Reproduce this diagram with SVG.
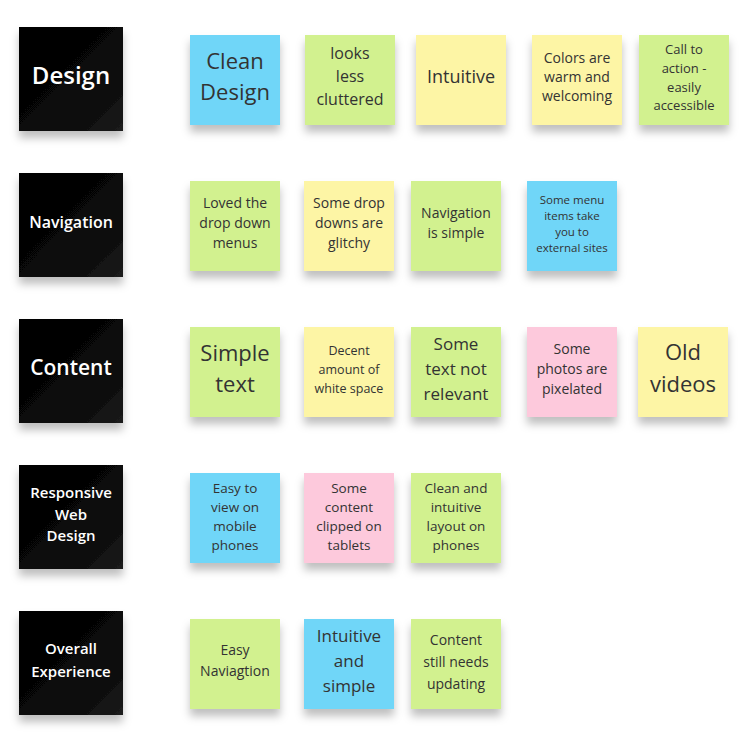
<svg xmlns="http://www.w3.org/2000/svg" width="753" height="741" viewBox="0 0 753 741">
<defs>
<filter id="sh" x="-20%" y="-20%" width="140%" height="150%"><feDropShadow dx="0" dy="7" stdDeviation="4" flood-color="#000" flood-opacity="0.25"/></filter>
<linearGradient id="bk" x1="0" y1="0" x2="1" y2="1"><stop offset="0" stop-color="#000"/><stop offset="0.7" stop-color="#0a0a0a"/><stop offset="1" stop-color="#1c1c1c"/></linearGradient>
</defs>
<style>
rect{filter:url(#sh)}
.h rect{fill:url(#bk)}
.b{fill:#6fd6f8}.g{fill:#d2f18f}.y{fill:#fdf5a5}.p{fill:#fdc9dc}
text{font-family:"Open Sans","Noto Sans",sans-serif;text-anchor:middle;fill:#333}
.h text{fill:#fff;font-weight:600}
</style>
<rect width="753" height="741" fill="#fff" style="filter:none"/>
<g id="h1" class="h"><rect x="19" y="27" width="104" height="104"/><text x="71" y="84" font-size="24">Design</text></g>
<g id="h2" class="h"><rect x="19" y="173" width="104" height="104"/><text x="71" y="228" font-size="16">Navigation</text></g>
<g id="h3" class="h"><rect x="19" y="319" width="104" height="104"/><text x="71" y="375" font-size="21">Content</text></g>
<g id="h4" class="h"><rect x="19" y="465" width="104" height="104"/><text x="71" y="498" font-size="15">Responsive</text><text x="71" y="520" font-size="15">Web</text><text x="71" y="541" font-size="15">Design</text></g>
<g id="h5" class="h"><rect x="19" y="611" width="104" height="104"/><text x="71" y="654" font-size="15">Overall</text><text x="71" y="677" font-size="15">Experience</text></g>

<g id="n1"><rect class="b" x="190" y="35" width="90" height="90"/><text x="235" y="69" font-size="22">Clean</text><text x="235" y="100" font-size="22">Design</text></g>
<g id="n2"><rect class="g" x="305" y="35" width="90" height="90"/><text x="350" y="59" font-size="16">looks</text><text x="350" y="82" font-size="16">less</text><text x="350" y="105" font-size="16">cluttered</text></g>
<g id="n3"><rect class="y" x="416" y="35" width="90" height="90"/><text x="461" y="83" font-size="18">Intuitive</text></g>
<g id="n4"><rect class="y" x="532" y="35" width="90" height="90"/><text x="577" y="63" font-size="14">Colors are</text><text x="577" y="82" font-size="14">warm and</text><text x="577" y="101" font-size="14">welcoming</text></g>
<g id="n5"><rect class="g" x="639" y="35" width="90" height="90"/><text x="684" y="54" font-size="13">Call to</text><text x="684" y="73" font-size="13">action -</text><text x="684" y="92" font-size="13">easily</text><text x="684" y="110" font-size="13">accessible</text></g>

<g id="n6"><rect class="g" x="190" y="181" width="90" height="90"/><text x="235" y="208" font-size="14">Loved the</text><text x="235" y="228" font-size="14">drop down</text><text x="235" y="248" font-size="14">menus</text></g>
<g id="n7"><rect class="y" x="304" y="181" width="90" height="90"/><text x="349" y="208" font-size="14">Some drop</text><text x="349" y="228" font-size="14">downs are</text><text x="349" y="248" font-size="14">glitchy</text></g>
<g id="n8"><rect class="g" x="411" y="181" width="90" height="90"/><text x="456" y="218" font-size="14">Navigation</text><text x="456" y="238" font-size="14">is simple</text></g>
<g id="n9"><rect class="b" x="527" y="181" width="90" height="90"/><text x="572" y="204" font-size="11.5">Some menu</text><text x="572" y="220" font-size="11.5">items take</text><text x="572" y="236" font-size="11.5">you to</text><text x="572" y="252" font-size="11.5">external sites</text></g>

<g id="n10"><rect class="g" x="190" y="327" width="90" height="90"/><text x="235" y="361" font-size="22">Simple</text><text x="235" y="392" font-size="22">text</text></g>
<g id="n11"><rect class="y" x="304" y="327" width="90" height="90"/><text x="349" y="355" font-size="12.5">Decent</text><text x="349" y="374" font-size="12.5">amount of</text><text x="349" y="393" font-size="12.5">white space</text></g>
<g id="n12"><rect class="g" x="411" y="327" width="90" height="90"/><text x="456" y="350" font-size="17">Some</text><text x="456" y="375" font-size="17">text not</text><text x="456" y="400" font-size="17">relevant</text></g>
<g id="n13"><rect class="p" x="527" y="327" width="90" height="90"/><text x="572" y="354" font-size="14">Some</text><text x="572" y="374" font-size="14">photos are</text><text x="572" y="394" font-size="14">pixelated</text></g>
<g id="n14"><rect class="y" x="638" y="327" width="90" height="90"/><text x="683" y="360" font-size="22">Old</text><text x="683" y="392" font-size="22">videos</text></g>

<g id="n15"><rect class="b" x="190" y="473" width="90" height="90"/><text x="235" y="493" font-size="13.5">Easy to</text><text x="235" y="512" font-size="13.5">view on</text><text x="235" y="531" font-size="13.5">mobile</text><text x="235" y="550" font-size="13.5">phones</text></g>
<g id="n16"><rect class="p" x="304" y="473" width="90" height="90"/><text x="349" y="493" font-size="13.5">Some</text><text x="349" y="512" font-size="13.5">content</text><text x="349" y="531" font-size="13.5">clipped on</text><text x="349" y="550" font-size="13.5">tablets</text></g>
<g id="n17"><rect class="g" x="411" y="473" width="90" height="90"/><text x="456" y="493" font-size="13.5">Clean and</text><text x="456" y="512" font-size="13.5">intuitive</text><text x="456" y="531" font-size="13.5">layout on</text><text x="456" y="550" font-size="13.5">phones</text></g>

<g id="n18"><rect class="g" x="190" y="619" width="90" height="90"/><text x="235" y="655" font-size="14">Easy</text><text x="235" y="676" font-size="14">Naviagtion</text></g>
<g id="n19"><rect class="b" x="304" y="619" width="90" height="90"/><text x="349" y="642" font-size="17">Intuitive</text><text x="349" y="667" font-size="17">and</text><text x="349" y="692" font-size="17">simple</text></g>
<g id="n20"><rect class="g" x="411" y="619" width="90" height="90"/><text x="456" y="645" font-size="14">Content</text><text x="456" y="667" font-size="14">still needs</text><text x="456" y="689" font-size="14">updating</text></g>
<g id="connectors"/>
</svg>
